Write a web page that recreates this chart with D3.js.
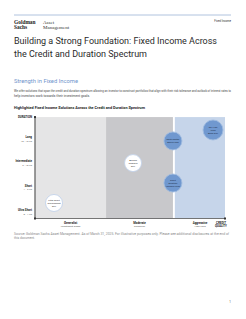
<!DOCTYPE html>
<html>
<head>
<meta charset="utf-8">
<script src="https://cdn.jsdelivr.net/npm/d3@7"></script>
<style>
  body { margin: 0; background: #fff; }
  text { font-family: Roboto, "Liberation Sans", sans-serif; }
</style>
</head>
<body>
<div class="chart"></div>
<script>
// duration bands (y) and credit zones (x)
const durations = ["Ultra Short", "Short", "Intermediate", "Long"];
const durationRanges = ["0 - 1 YR", "1 - 3 YR", "3 - 10 YR", "10 - 15 YR"];
const zones = ["Generalist", "Moderate", "Aggressive"];
const zoneSubs = ["Investment Grade", "Crossover", "High Yield"];
const zoneStart = [0, 37.4, 73.6];
const zoneEnd = [37.4, 72.6, 100];
const zoneColors = ["#e5e5e6", "#c8c8cb", "#c6d5ea"];

// solutions: credit position (0-100), duration position (0 = ultra short .. 3 = long)
const funds = [
	["Ultra Short", "Government", "ETF"],
	["Access", "Treasury", "ETF"],
	["Short", "Duration", "Income Fund"],
	["Multi-Sector", "Bond Fund"],
	["GS High", "Yield", "Bond ETF"]
];
const fundCredit = [10, 51.6, 72.6, 72.6, 93.7];
const fundDuration = [0.33, 1.97, 1.15, 2.88, 3.33];
const fundType = ["core", "core", "alpha", "alpha", "alpha"];
const fundSize = [8.5, 8.5, 9, 9, 10];

const outWidth = 246, outHeight = 319;
const svg = d3.select(".chart").append("svg")
	.attr("width", outWidth)
	.attr("height", outHeight);

// header
svg.append("line")
	.attr("x1", 14).attr("x2", 231).attr("y1", 15).attr("y2", 15)
	.attr("stroke", "#9db4d6").attr("stroke-width", 0.8);

const serif = "Liberation Serif, serif";
svg.append("text").attr("x", 14).attr("y", 23.5).attr("font-size", 5.4).attr("font-weight", "bold")
	.style("font-family", serif).attr("fill", "#222").text("Goldman");
svg.append("text").attr("x", 14).attr("y", 28.5).attr("font-size", 5.4).attr("font-weight", "bold")
	.style("font-family", serif).attr("fill", "#222").text("Sachs");
svg.append("text").attr("x", 43).attr("y", 23.5).attr("font-size", 5)
	.style("font-family", serif).attr("fill", "#333").text("Asset");
svg.append("text").attr("x", 43).attr("y", 28.5).attr("font-size", 5)
	.style("font-family", serif).attr("fill", "#333").text("Management");

svg.append("text").attr("x", 231).attr("y", 22).attr("text-anchor", "end")
	.attr("font-size", 2.8).attr("fill", "#333").text("Fixed Income");

svg.append("text").attr("x", 14).attr("y", 44).attr("font-size", 9.4)
	.attr("fill", "#2a2a2a").attr("textLength", 203).attr("lengthAdjust", "spacingAndGlyphs")
	.text("Building a Strong Foundation: Fixed Income Across");
svg.append("text").attr("x", 14).attr("y", 57).attr("font-size", 9.4)
	.attr("fill", "#2a2a2a").attr("textLength", 133).attr("lengthAdjust", "spacingAndGlyphs")
	.text("the Credit and Duration Spectrum");

svg.append("text").attr("x", 14).attr("y", 83).attr("font-size", 6.2)
	.attr("fill", "#6f94cc").attr("textLength", 64).attr("lengthAdjust", "spacingAndGlyphs")
	.text("Strength in Fixed Income");

svg.append("text").attr("x", 14).attr("y", 92).attr("font-size", 3.1)
	.attr("fill", "#444").attr("textLength", 217).attr("lengthAdjust", "spacingAndGlyphs")
	.text("We offer solutions that span the credit and duration spectrum allowing an investor to construct portfolios that align with their risk tolerance and outlook of interest rates to");
svg.append("text").attr("x", 14).attr("y", 97).attr("font-size", 3.1)
	.attr("fill", "#444").attr("textLength", 76).attr("lengthAdjust", "spacingAndGlyphs")
	.text("help investors work towards their investment goals.");

svg.append("text").attr("x", 14).attr("y", 108.5).attr("font-size", 3.8).attr("font-weight", "bold")
	.attr("fill", "#222").attr("textLength", 131).attr("lengthAdjust", "spacingAndGlyphs")
	.text("Highlighted Fixed Income Solutions Across the Credit and Duration Spectrum");

// chart
const x = d3.scaleLinear().domain([0, 100]).range([35, 225]);
const y = d3.scaleLinear().domain([0, 3]).range([211, 138]);
const yTop = y(3.86), yBottom = 218.5;

svg.selectAll("rect.zone")
	.data(zones)
	.enter()
	.append("rect")
	.attr("class", "zone")
	.attr("x", (d, i) => x(zoneStart[i]))
	.attr("y", yTop)
	.attr("width", (d, i) => x(zoneEnd[i]) - x(zoneStart[i]))
	.attr("height", yBottom - yTop)
	.attr("fill", (d, i) => zoneColors[i]);

// axes lines
svg.append("line").attr("x1", x(0)).attr("x2", x(0)).attr("y1", yTop).attr("y2", yBottom)
	.attr("stroke", "#666").attr("stroke-width", 1.3);
svg.append("line").attr("x1", x(0)).attr("x2", x(100)).attr("y1", yBottom).attr("y2", yBottom)
	.attr("stroke", "#666").attr("stroke-width", 0.9);
svg.append("rect").attr("x", x(0) - 1).attr("y", yTop - 1).attr("width", 2).attr("height", 2).attr("fill", "#333");
svg.append("rect").attr("x", x(100) - 1).attr("y", yBottom - 1).attr("width", 2).attr("height", 2).attr("fill", "#333");
svg.append("rect").attr("x", x(0) - 1).attr("y", yBottom - 1).attr("width", 2).attr("height", 2).attr("fill", "#333");

// y labels
svg.append("text").attr("x", 32).attr("y", yTop + 1.2).attr("text-anchor", "end")
	.attr("font-size", 2.9).attr("font-weight", "bold").attr("fill", "#222").text("DURATION");
const yl = svg.selectAll("g.ylab")
	.data(durations)
	.enter()
	.append("g")
	.attr("class", "ylab")
	.attr("transform", (d, i) => `translate(32, ${y(i)})`);
yl.append("text").attr("y", 0).attr("text-anchor", "end")
	.attr("font-size", 2.9).attr("font-weight", "bold").attr("fill", "#222").text(d => d);
yl.append("text").attr("y", 3.6).attr("text-anchor", "end")
	.attr("font-size", 2.5).attr("fill", "#555").text((d, i) => durationRanges[i]);

// x labels
const xl = svg.selectAll("g.xlab")
	.data(zones)
	.enter()
	.append("g")
	.attr("class", "xlab")
	.attr("transform", (d, i) => `translate(${i === 2 ? x(zoneEnd[i]) - 25 : (x(zoneStart[i]) + x(zoneEnd[i])) / 2}, 224)`);
xl.append("text").attr("text-anchor", "middle")
	.attr("font-size", 2.9).attr("font-weight", "bold").attr("fill", "#222").text(d => d);
xl.append("text").attr("y", 3.4).attr("text-anchor", "middle")
	.attr("font-size", 2.5).attr("fill", "#555").text((d, i) => zoneSubs[i]);
svg.append("text").attr("x", 221).attr("y", 224).attr("text-anchor", "middle")
	.attr("font-size", 2.9).attr("font-weight", "bold").attr("fill", "#222").text("CREDIT");
svg.append("text").attr("x", 221).attr("y", 227.4).attr("text-anchor", "middle")
	.attr("font-size", 2.9).attr("font-weight", "bold").attr("fill", "#222").text("QUALITY");

// fund bubbles
const bubbles = svg.selectAll("g.fund")
	.data(funds)
	.enter()
	.append("g")
	.attr("class", "fund")
	.attr("transform", (d, i) => `translate(${x(fundCredit[i])}, ${y(fundDuration[i])})`);
bubbles.append("circle")
	.attr("r", (d, i) => fundSize[i])
	.attr("fill", (d, i) => fundType[i] === "core" ? "#ffffff" : "#7098cf")
	.attr("stroke", (d, i) => fundType[i] === "core" ? "#c3d3ea" : "#9fbbe0")
	.attr("stroke-width", 0.9);
bubbles.each(function(d, i) {
	const g = d3.select(this);
	d.forEach((line, j) => {
		g.append("text")
			.attr("y", (j - (d.length - 1) / 2) * 2.9 + 1)
			.attr("text-anchor", "middle")
			.attr("font-size", 2.4)
			.attr("fill", fundType[i] === "core" ? "#333" : "#1e2f4a")
			.text(line);
	});
});

// source
svg.append("text").attr("x", 14).attr("y", 235).attr("font-size", 2.8)
	.attr("fill", "#8a8a8a").attr("textLength", 215).attr("lengthAdjust", "spacingAndGlyphs")
	.text("Source: Goldman Sachs Asset Management. As of March 31, 2025. For illustrative purposes only. Please see additional disclosures at the end of");
svg.append("text").attr("x", 14).attr("y", 239).attr("font-size", 2.8)
	.attr("fill", "#8a8a8a").attr("textLength", 21).attr("lengthAdjust", "spacingAndGlyphs")
	.text("this document.");

svg.append("text").attr("x", 230).attr("y", 303).attr("text-anchor", "middle")
	.attr("font-size", 2.8).attr("fill", "#444").text("1");
</script>
</body>
</html>
